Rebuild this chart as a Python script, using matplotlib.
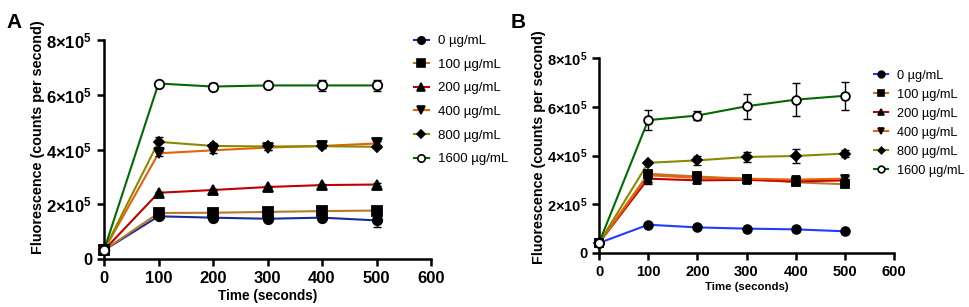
import numpy as np
import matplotlib.pyplot as plt

plt.rcParams['font.family'] = ['Liberation Sans', 'DejaVu Sans']
plt.rcParams['mathtext.fontset'] = 'custom'
plt.rcParams['mathtext.rm'] = 'Liberation Sans:bold'
plt.rcParams['mathtext.default'] = 'rm'

t = [0, 100, 200, 300, 400, 500]
labels = ['0 µg/mL', '100 µg/mL', '200 µg/mL', '400 µg/mL', '800 µg/mL', '1600 µg/mL']
markers = ['o', 's', '^', 'v', 'D', 'o']
colors_a = ['#1a2a9a', '#b8782a', '#c00000', '#e8600a', '#8a8a00', '#006a00']
colors_b = ['#1f3cff', '#b8782a', '#c00000', '#e8600a', '#8a8a00', '#006a00']

# panel A (units of 1e5)
a_mean = [
    [0.32, 1.56, 1.51, 1.47, 1.51, 1.41],
    [0.32, 1.68, 1.69, 1.72, 1.75, 1.77],
    [0.32, 2.42, 2.52, 2.63, 2.70, 2.72],
    [0.32, 3.86, 3.97, 4.07, 4.13, 4.22],
    [0.32, 4.28, 4.13, 4.11, 4.12, 4.10],
    [0.32, 6.41, 6.30, 6.34, 6.34, 6.34],
]
a_err = [
    [0.03, 0.05, 0.05, 0.06, 0.12, 0.25],
    [0.03, 0.04, 0.04, 0.05, 0.06, 0.05],
    [0.03, 0.04, 0.04, 0.04, 0.04, 0.04],
    [0.03, 0.08, 0.08, 0.07, 0.06, 0.08],
    [0.03, 0.18, 0.12, 0.14, 0.06, 0.06],
    [0.03, 0.06, 0.12, 0.10, 0.20, 0.20],
]

# panel B (units of 1e5)
b_mean = [
    [0.41, 1.16, 1.05, 1.00, 0.97, 0.89],
    [0.41, 3.25, 3.14, 3.04, 2.90, 2.82],
    [0.41, 3.05, 2.98, 3.00, 2.94, 2.98],
    [0.41, 3.19, 3.08, 3.05, 3.01, 3.05],
    [0.41, 3.70, 3.80, 3.94, 3.98, 4.08],
    [0.41, 5.45, 5.64, 6.02, 6.29, 6.45],
]
b_err = [
    [0.03, 0.04, 0.04, 0.04, 0.05, 0.04],
    [0.03, 0.15, 0.12, 0.07, 0.10, 0.06],
    [0.03, 0.20, 0.12, 0.08, 0.10, 0.06],
    [0.03, 0.15, 0.12, 0.06, 0.10, 0.10],
    [0.03, 0.06, 0.18, 0.22, 0.30, 0.15],
    [0.03, 0.40, 0.20, 0.52, 0.67, 0.58],
]

yticks = [0, 2, 4, 6, 8]
ytick_labels = ['0', '2×10$^{5}$', '4×10$^{5}$', '6×10$^{5}$', '8×10$^{5}$']
xticks = [0, 100, 200, 300, 400, 500, 600]

fig = plt.figure(figsize=(9.69, 3.07), dpi=100)
axA = fig.add_axes([104/969, 1-259/307, (431-104)/969, (259-40)/307])
axB = fig.add_axes([599/969, 1-253/307, (894-599)/969, (253-58)/307])


def draw(ax, mean, err, colors, ms, tick_fs, xl_fs, yl_fs, ylab_y):
    for i in range(6):
        mfc = 'white' if i == 5 else 'black'
        m = ms - 1.5 if markers[i] == 'D' else ms
        ax.plot(t, mean[i], color=colors[i], lw=1.5, zorder=2)
        ax.errorbar(t, mean[i], yerr=err[i], fmt='none', ecolor='black',
                    elinewidth=1.0, capsize=3, capthick=1.0, zorder=3)
        ax.plot(t, mean[i], ls='none', marker=markers[i], ms=m,
                mfc=mfc, mec='black', mew=1.3, zorder=4)
        ax.plot([], [], color=colors[i], lw=1.5, marker=markers[i], ms=m - 1.5,
                mfc=mfc, mec='black', mew=1.2, label=labels[i])
    ax.set_xlim(0, 600)
    ax.set_ylim(0, 8)
    ax.set_xticks(xticks)
    ax.set_yticks(yticks)
    ax.set_yticklabels(ytick_labels)
    ax.spines['top'].set_visible(False)
    ax.spines['right'].set_visible(False)
    ax.spines['left'].set_linewidth(1.8)
    ax.spines['bottom'].set_linewidth(1.8)
    ax.tick_params(width=1.8, length=5, labelsize=tick_fs)
    for lab in ax.get_xticklabels() + ax.get_yticklabels():
        lab.set_fontweight('bold')
    for art in ax.get_children():
        art.set_clip_on(False)
    ax.set_xlabel('Time (seconds)', fontsize=xl_fs, fontweight='bold', labelpad=2)
    ax.set_ylabel('Fluorescence (counts per second)', fontsize=yl_fs,
                  fontweight='bold')
    ax.yaxis.set_label_coords(-0.18, ylab_y)


draw(axA, a_mean, a_err, colors_a, 6.8, 12, 9.8, 10.4, 0.555)
draw(axB, b_mean, b_err, colors_b, 6.3, 10.5, 8.2, 10.4, 0.541)

axA.legend(loc='upper left', bbox_to_anchor=(0.912, 1.077), frameon=False,
           fontsize=9.5, handlelength=1.1, labelspacing=0.86, handletextpad=0.7)
axB.legend(loc='upper left', bbox_to_anchor=(0.894, 1.0), frameon=False,
           fontsize=9.2, handlelength=1.1, labelspacing=0.55, handletextpad=0.7)

fig.text(6/969, 1-28/307, 'A', fontsize=15, fontweight='bold')
fig.text(511/969, 1-28/307, 'B', fontsize=15, fontweight='bold')

fig.savefig('out.png', dpi=100)
